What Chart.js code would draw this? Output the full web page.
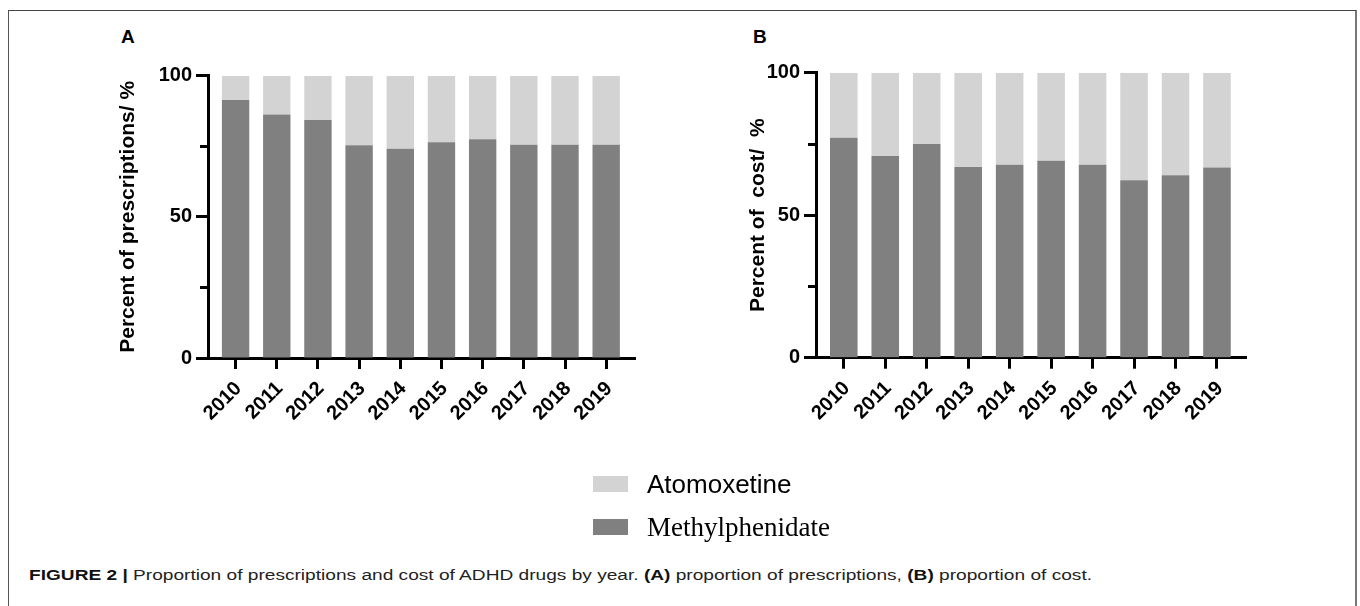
<!DOCTYPE html>
<html>
<head>
<meta charset="utf-8">
<script src="https://cdn.jsdelivr.net/npm/chart.js@4/dist/chart.umd.min.js"></script>
<style>
  html, body { margin: 0; padding: 0; background: #fff; }
  body { width: 1360px; height: 606px; position: relative; overflow: hidden; font-family: "Liberation Sans", Arial, sans-serif; }
  .frame { position: absolute; left: 8px; top: 10px; width: 1346px; height: 620px;
           border-top: 1.5px solid #444; border-left: 1.5px solid #555; border-right: 2px solid #777; }
  canvas { position: absolute; top: 0; }
  .panel-letter { position: absolute; font: bold 19px/19px "Liberation Sans", Arial, sans-serif; color: #000; }
  .legend-swatch { position: absolute; width: 35px; height: 16px; }
  .legend-text { position: absolute; color: #000; white-space: nowrap; }
  .caption { position: absolute; left: 29px; top: 567px; font: 14px/16px "Liberation Sans", Arial, sans-serif;
             color: #222; white-space: nowrap; transform-origin: 0 0; }
  .caption b { font-weight: bold; color: #111; }
</style>
</head>
<body>
<div class="frame"></div>
<div class="panel-letter" style="left:121px; top:27px;">A</div>
<div class="panel-letter" style="left:753px; top:27px;">B</div>
<canvas id="chartA" width="690" height="470" style="left:0px;"></canvas>
<canvas id="chartB" width="670" height="470" style="left:690px;"></canvas>

<div class="legend-swatch" style="left:593px; top:476px; background:#d3d3d3;"></div>
<div class="legend-text" style="left:647px; top:469px; font:26px/30px 'Liberation Sans', Arial, sans-serif;">Atomoxetine</div>
<div class="legend-swatch" style="left:593px; top:519px; background:#808080;"></div>
<div class="legend-text" style="left:647px; top:512px; font:27px/30px 'Liberation Serif', 'Times New Roman', serif;">Methylphenidate</div>

<div class="caption" id="caption"><b>FIGURE 2 |</b> Proportion of prescriptions and cost of ADHD drugs by year. <b>(A)</b> proportion of prescriptions, <b>(B)</b> proportion of cost.</div>

<script>
// Years on the horizontal axis
const years = ['2010', '2011', '2012', '2013', '2014', '2015', '2016', '2017', '2018', '2019'];

// Panel A: share of prescriptions (%)
const prescMethylphenidate = [91.4, 86.3, 84.3, 75.4, 74.1, 76.4, 77.5, 75.5, 75.5, 75.5];
const prescAtomoxetine     = [8.6, 13.7, 15.7, 24.6, 25.9, 23.6, 22.5, 24.5, 24.5, 24.5];

// Panel B: share of cost (%)
const costMethylphenidate = [77.2, 70.8, 75.0, 66.9, 67.7, 69.1, 67.7, 62.3, 64.0, 66.7];
const costAtomoxetine     = [22.8, 29.2, 25.0, 33.1, 32.3, 30.9, 32.3, 37.7, 36.0, 33.3];

// Y-axis ticks: labelled majors and unlabelled minors
const yMajorTicks = [0, 50, 100];
const yMinorTicks = [25, 75];

const DARK = '#808080';
const LIGHT = '#d3d3d3';

// Draws the shorter minor tick marks on the value axis
const minorTicks = {
  id: 'minorTicks',
  afterDraw(chart) {
    const y = chart.scales.y;
    const ctx = chart.ctx;
    ctx.save();
    ctx.strokeStyle = '#000';
    ctx.lineWidth = 3;
    yMinorTicks.forEach(v => {
      const py = Math.round(y.getPixelForValue(v)) + 0.5;
      ctx.beginPath();
      ctx.moveTo(chart.chartArea.left - 8, py);
      ctx.lineTo(chart.chartArea.left, py);
      ctx.stroke();
    });
    ctx.restore();
  }
};

function makeChart(id, methyl, atomox, title, geom) {
  const toPoints = arr => arr.map((v, i) => ({ x: i, y: v }));
  return new Chart(document.getElementById(id), {
    type: 'bar',
    data: {
      datasets: [
        { label: 'Methylphenidate', data: toPoints(methyl), backgroundColor: DARK,
          categoryPercentage: 1, barPercentage: 0.665 },
        { label: 'Atomoxetine', data: toPoints(atomox), backgroundColor: LIGHT,
          categoryPercentage: 1, barPercentage: 0.665 }
      ]
    },
    options: {
      responsive: false,
      animation: false,
      devicePixelRatio: 1,
      layout: { padding: { top: geom.top, right: geom.right, left: 0, bottom: 0 } },
      plugins: { legend: { display: false }, tooltip: { enabled: false } },
      scales: {
        x: {
          type: 'linear',
          stacked: true,
          offset: false,
          min: -0.67,
          max: 9.7,
          afterBuildTicks: s => { s.ticks = years.map((_, i) => ({ value: i })); },
          afterFit: s => { s.height = geom.xHeight; },
          ticks: {
            callback: v => years[v],
            autoSkip: false,
            minRotation: 45,
            maxRotation: 45,
            color: '#000',
            padding: 8,
            labelOffset: 3,
            font: { family: "'Liberation Sans', Arial, sans-serif", size: 20, weight: 'bold' }
          },
          grid: { drawOnChartArea: false, offset: false, tickLength: 11, tickWidth: 3, tickColor: '#000' },
          border: { display: true, color: '#000', width: 3 }
        },
        y: {
          stacked: true,
          min: 0,
          max: 100,
          afterBuildTicks: s => { s.ticks = yMajorTicks.concat(yMinorTicks).sort((a, b) => a - b).map(v => ({ value: v })); },
          afterFit: s => { s.width = geom.yWidth; },
          ticks: {
            callback: v => (yMajorTicks.includes(v) ? String(v) : ''),
            color: '#000',
            padding: 4,
            font: { family: "'Liberation Sans', Arial, sans-serif", size: 20, weight: 'bold' }
          },
          grid: {
            drawOnChartArea: false,
            tickLength: 12,
            tickWidth: 3,
            tickColor: c => (c.tick && yMajorTicks.includes(c.tick.value) ? '#000' : 'rgba(0,0,0,0)')
          },
          border: { display: true, color: '#000', width: 3 },
          title: {
            display: true,
            text: title,
            color: '#000',
            padding: { top: geom.titlePad, bottom: 0 },
            font: { family: "'Liberation Sans', Arial, sans-serif", size: 21, weight: 'bold' }
          }
        }
      }
    },
    plugins: [minorTicks]
  });
}

makeChart('chartA', prescMethylphenidate, prescAtomoxetine, 'Percent of prescriptions/ %',
  { top: 75.7, right: 55, xHeight: 112, yWidth: 208, titlePad: 116 });
makeChart('chartB', costMethylphenidate, costAtomoxetine, 'Percent of  cost/  %',
  { top: 72.7, right: 114, xHeight: 112.3, yWidth: 126, titlePad: 56 });

// Caption runs across the figure width
const cap = document.getElementById('caption');
const w = cap.getBoundingClientRect().width;
cap.style.transform = 'scaleX(' + (1063 / w).toFixed(4) + ')';
</script>
</body>
</html>
